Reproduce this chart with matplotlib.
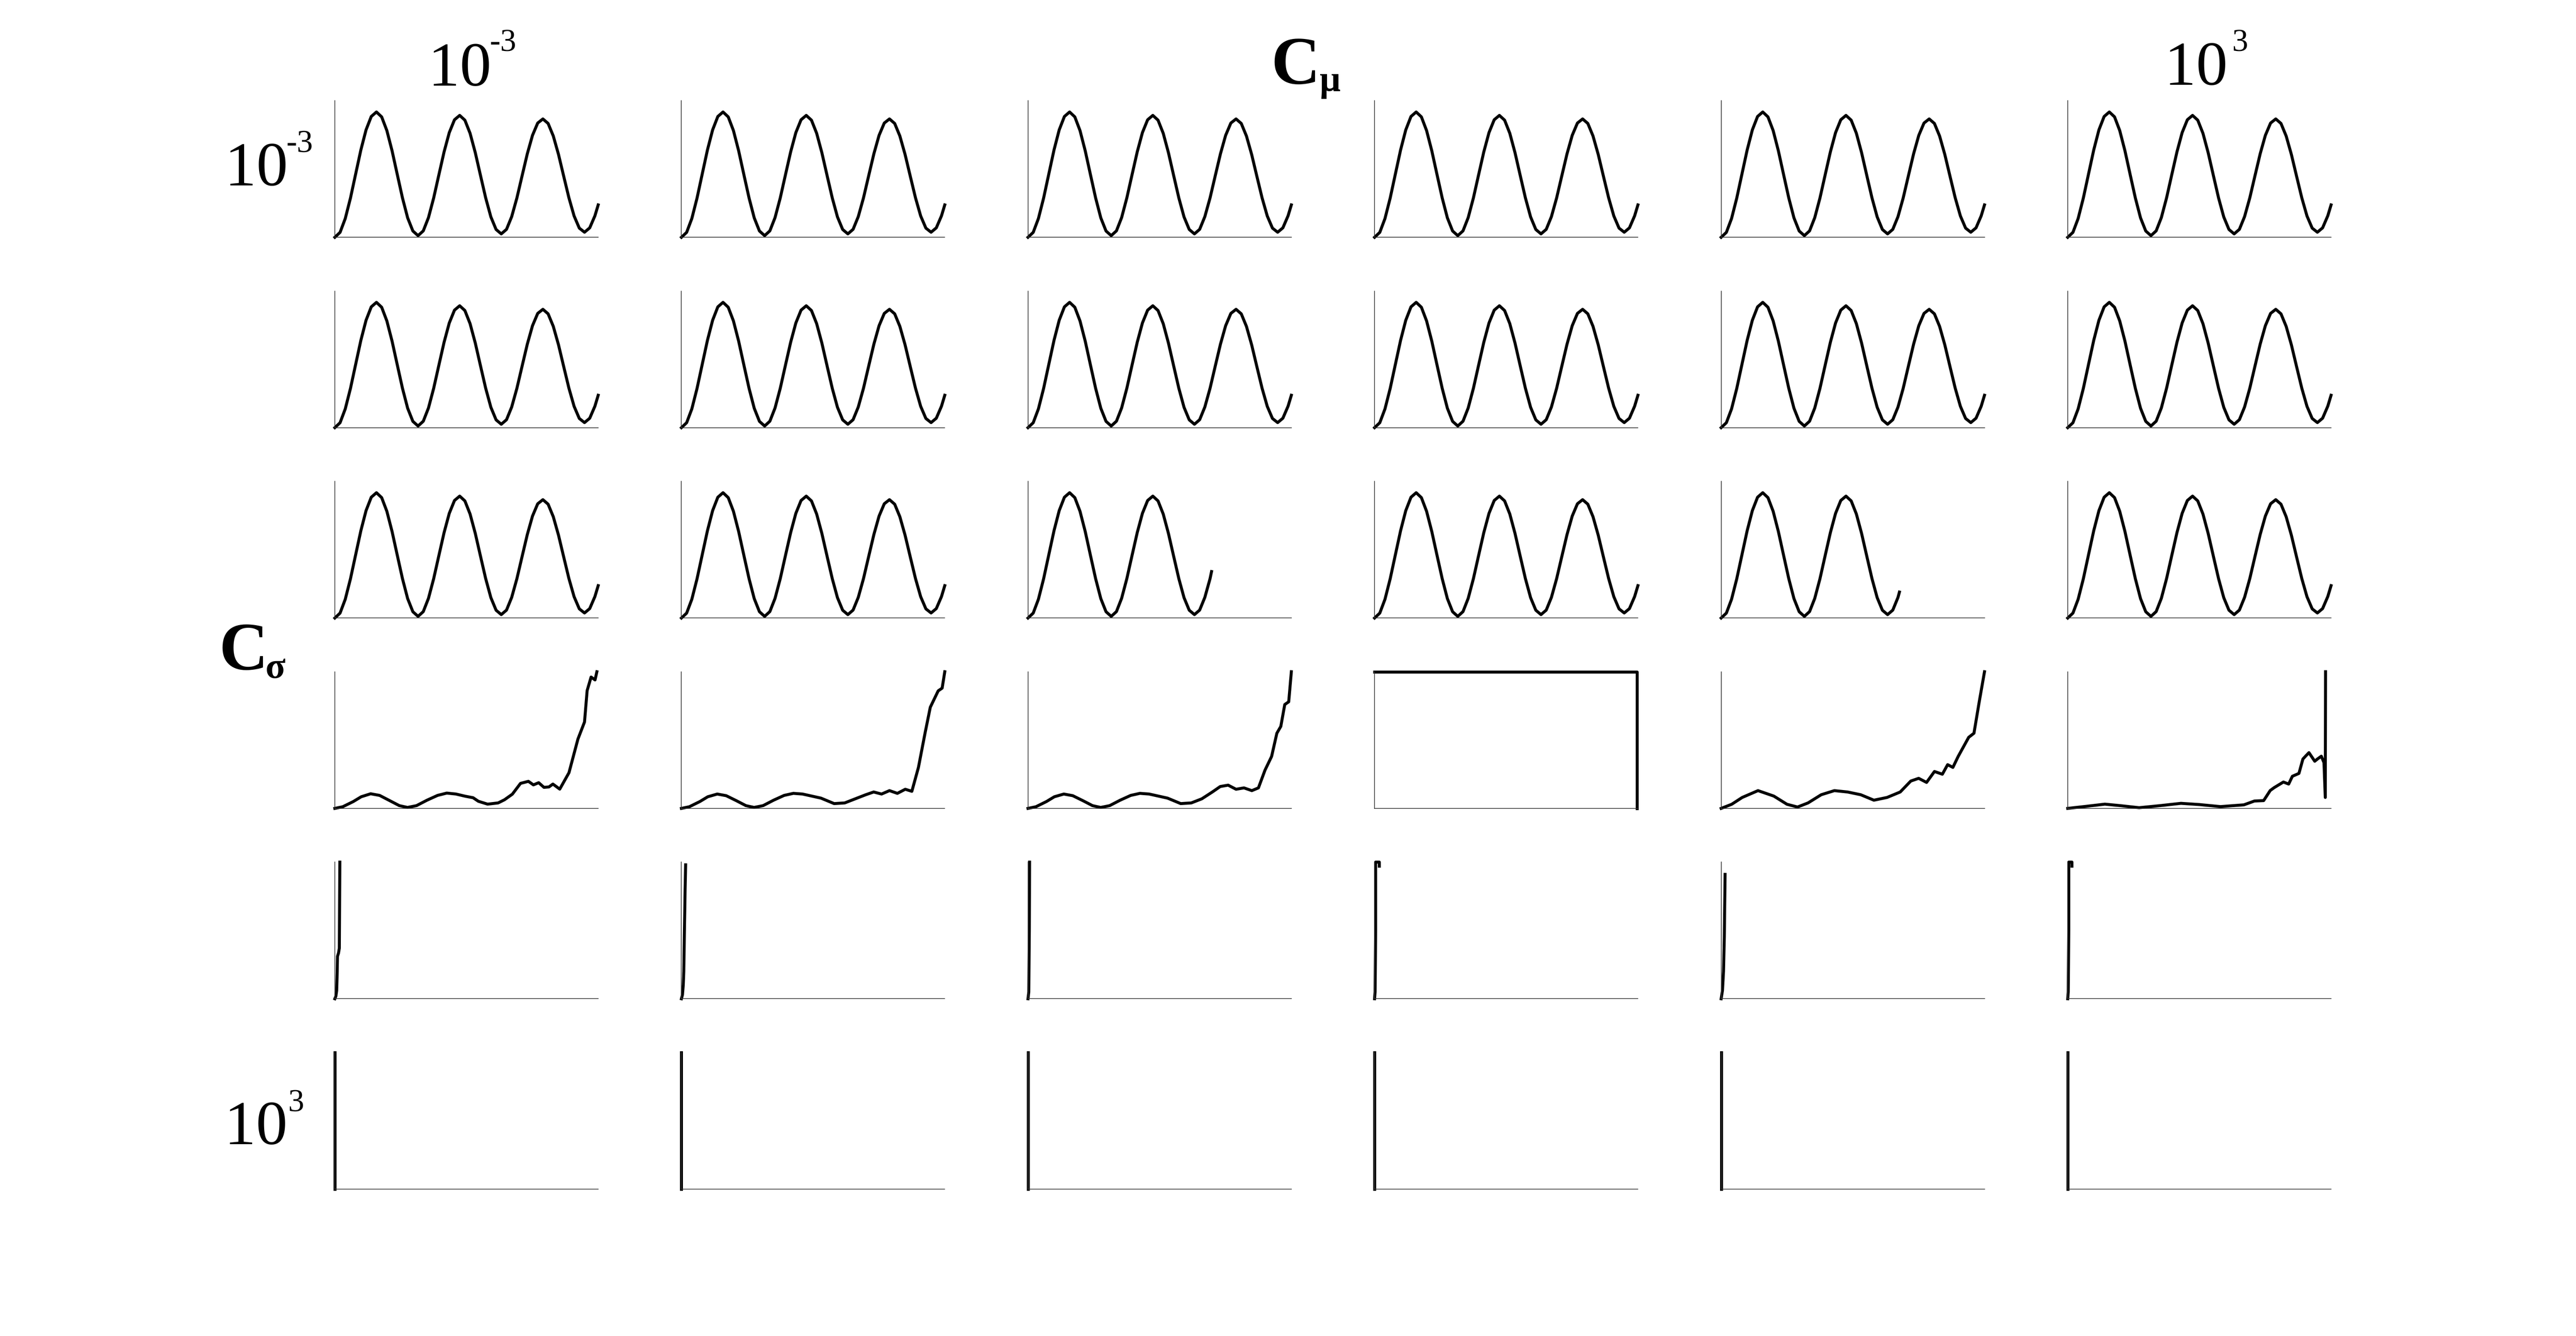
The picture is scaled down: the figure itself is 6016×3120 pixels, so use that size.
"""
6x6 grid of small trace panels over C_mu (columns) and C_sigma (rows).
"""

import matplotlib

matplotlib.use("Agg")
import matplotlib.pyplot as plt

# oscillating trace, x and y as fraction of the panel
SINE_X = [0.0, 0.0198, 0.0395, 0.0593, 0.079, 0.0988, 0.1185, 0.1383, 0.158,
          0.1778, 0.1975, 0.2173, 0.237, 0.2568, 0.2765, 0.2963, 0.316,
          0.3358, 0.3555, 0.3753, 0.395, 0.4148, 0.4345, 0.4543, 0.474,
          0.4938, 0.5135, 0.5333, 0.553, 0.5728, 0.5925, 0.6123, 0.632,
          0.6518, 0.6715, 0.6913, 0.711, 0.7308, 0.7505, 0.7703, 0.79,
          0.8098, 0.8295, 0.8493, 0.869, 0.8888, 0.9085, 0.9283, 0.948,
          0.9678, 0.9875, 1.0]
SINE_Y = [0.0, 0.036, 0.137, 0.287, 0.463, 0.639, 0.786, 0.884, 0.917,
          0.881, 0.781, 0.633, 0.460, 0.288, 0.142, 0.046, 0.012,
          0.047, 0.144, 0.288, 0.457, 0.625, 0.766, 0.860, 0.892,
          0.857, 0.761, 0.619, 0.453, 0.288, 0.149, 0.057, 0.025,
          0.058, 0.151, 0.288, 0.450, 0.611, 0.746, 0.836, 0.866,
          0.833, 0.741, 0.606, 0.447, 0.289, 0.156, 0.067, 0.037,
          0.069, 0.157, 0.237]

# traces that stop early (row 3, columns 3 and 5)
CUT_A_END = (0.697, 0.34)
CUT_B_END = (0.677, 0.19)

# row 4: slow wobble then a climb
DRIFT1_X = [0.0, 0.03, 0.07, 0.10, 0.136, 0.17, 0.21, 0.245, 0.276, 0.31,
            0.35, 0.39, 0.425, 0.46, 0.495, 0.525, 0.545, 0.58, 0.62, 0.644,
            0.674, 0.705, 0.735, 0.754, 0.774, 0.794, 0.813, 0.828, 0.854,
            0.889, 0.923, 0.948, 0.958, 0.973, 0.988, 0.995]
DRIFT1_Y = [0.0, 0.012, 0.05, 0.085, 0.107, 0.095, 0.055, 0.02, 0.007, 0.02,
            0.06, 0.095, 0.112, 0.105, 0.089, 0.078, 0.052, 0.031, 0.04, 0.063,
            0.104, 0.183, 0.198, 0.172, 0.188, 0.154, 0.157, 0.178, 0.141,
            0.261, 0.507, 0.632, 0.862, 0.961, 0.940, 1.0]

DRIFT2_X = [0.0, 0.03, 0.07, 0.10, 0.136, 0.17, 0.21, 0.245, 0.276, 0.31,
            0.35, 0.39, 0.425, 0.46, 0.495, 0.53, 0.58, 0.62, 0.66, 0.70,
            0.73, 0.76, 0.79, 0.82, 0.85, 0.875, 0.90, 0.925, 0.945, 0.96,
            0.975, 0.99, 1.0]
DRIFT2_Y = [0.0, 0.012, 0.05, 0.085, 0.105, 0.093, 0.055, 0.02, 0.007, 0.02,
            0.06, 0.095, 0.11, 0.105, 0.09, 0.075, 0.035, 0.04, 0.07, 0.10,
            0.12, 0.105, 0.13, 0.11, 0.14, 0.125, 0.30, 0.55, 0.74, 0.80,
            0.86, 0.88, 1.0]

DRIFT3_X = [0.0, 0.03, 0.07, 0.10, 0.136, 0.17, 0.21, 0.245, 0.276, 0.31,
            0.35, 0.39, 0.425, 0.46, 0.495, 0.53, 0.58, 0.62, 0.66, 0.70,
            0.73, 0.76, 0.79, 0.82, 0.85, 0.875, 0.90, 0.925, 0.945, 0.96,
            0.975, 0.99, 1.0]
DRIFT3_Y = [0.0, 0.012, 0.05, 0.085, 0.105, 0.093, 0.055, 0.02, 0.007, 0.02,
            0.06, 0.095, 0.11, 0.105, 0.09, 0.075, 0.035, 0.04, 0.07, 0.12,
            0.16, 0.17, 0.14, 0.15, 0.13, 0.15, 0.28, 0.38, 0.55, 0.60,
            0.76, 0.78, 1.0]

FLAT_X = [0.0, 0.988, 0.997, 0.997]
FLAT_Y = [1.0, 1.0, 1.0, 0.0]

DRIFT5_X = [0.0, 0.04, 0.08, 0.14, 0.20, 0.25, 0.29, 0.33, 0.38, 0.43,
            0.48, 0.53, 0.58, 0.63, 0.68, 0.72, 0.75, 0.78, 0.81, 0.84,
            0.86, 0.88, 0.90, 0.92, 0.94, 0.96, 0.98, 1.0]
DRIFT5_Y = [0.0, 0.03, 0.08, 0.13, 0.09, 0.03, 0.01, 0.04, 0.10, 0.13,
            0.12, 0.10, 0.06, 0.08, 0.12, 0.20, 0.22, 0.19, 0.27, 0.25,
            0.32, 0.30, 0.38, 0.45, 0.52, 0.55, 0.78, 1.0]

DRIFT6_X = [0.0, 0.07, 0.141, 0.20, 0.271, 0.35, 0.43, 0.50, 0.58, 0.669,
            0.709, 0.744, 0.769, 0.784, 0.819, 0.839, 0.853, 0.878, 0.893,
            0.903, 0.916, 0.938, 0.948, 0.963, 0.973, 0.978, 0.979]
DRIFT6_Y = [0.0, 0.015, 0.031, 0.02, 0.005, 0.02, 0.037, 0.028, 0.013,
            0.026, 0.054, 0.057, 0.131, 0.152, 0.193, 0.178, 0.235, 0.256,
            0.361, 0.382, 0.408, 0.345, 0.361, 0.382, 0.335, 0.08, 1.0]

# row 5: almost immediate rise at the left edge
SPIKE1_X = [0.0, 0.004, 0.007, 0.009, 0.010, 0.014, 0.017, 0.018, 0.019]
SPIKE1_Y = [0.0, 0.02, 0.06, 0.20, 0.31, 0.335, 0.37, 0.70, 1.0]
SPIKE2_X = [0.0, 0.004, 0.007, 0.009, 0.011, 0.014, 0.016]
SPIKE2_Y = [0.0, 0.03, 0.10, 0.20, 0.45, 0.80, 0.98]
SPIKE3_X = [0.0, 0.003, 0.005, 0.006]
SPIKE3_Y = [0.0, 0.05, 0.50, 1.0]
SPIKE4_X = [0.0, 0.002, 0.004, 0.004, 0.018, 0.018]
SPIKE4_Y = [0.0, 0.05, 0.50, 1.0, 1.0, 0.97]
SPIKE5_X = [0.0, 0.005, 0.009, 0.012, 0.015]
SPIKE5_Y = [0.0, 0.06, 0.20, 0.45, 0.91]
SPIKE6_X = [0.0, 0.002, 0.004, 0.004, 0.016, 0.016]
SPIKE6_Y = [0.0, 0.05, 0.50, 1.0, 1.0, 0.97]

# row 6: vertical at x = 0
WALL_X = [0.0, 0.0]
WALL_Y = [0.0, 1.0]

COL_LABELS = ["10", "-3", "10", "3"]
ROW_LABELS = ["10", "-3", "10", "3"]

W, H = 6016, 3120


def fx(px):
    return px / W


def fy(py):
    return 1 - py / H


def main() -> None:
    plt.rcParams["font.family"] = ["Liberation Serif", "DejaVu Serif"]

    cut_a = (SINE_X[:36] + [CUT_A_END[0]], SINE_Y[:36] + [CUT_A_END[1]])
    cut_b = (SINE_X[:35] + [CUT_B_END[0]], SINE_Y[:35] + [CUT_B_END[1]])
    sine = (SINE_X, SINE_Y)

    traces = [
        [sine] * 6,
        [sine] * 6,
        [sine, sine, cut_a, sine, cut_b, sine],
        [(DRIFT1_X, DRIFT1_Y), (DRIFT2_X, DRIFT2_Y), (DRIFT3_X, DRIFT3_Y),
         (FLAT_X, FLAT_Y), (DRIFT5_X, DRIFT5_Y), (DRIFT6_X, DRIFT6_Y)],
        [(SPIKE1_X, SPIKE1_Y), (SPIKE2_X, SPIKE2_Y), (SPIKE3_X, SPIKE3_Y),
         (SPIKE4_X, SPIKE4_Y), (SPIKE5_X, SPIKE5_Y), (SPIKE6_X, SPIKE6_Y)],
        [(WALL_X, WALL_Y)] * 6,
    ]

    fig = plt.figure(figsize=(W / 400, H / 400), dpi=400)
    gs = fig.add_gridspec(6, 6, left=fx(782), right=fx(5444), top=fy(235),
                          bottom=fy(2777), wspace=0.316, hspace=0.393)

    for r in range(6):
        for c in range(6):
            ax = fig.add_subplot(gs[r, c])
            xs, ys = traces[r][c]
            ax.plot(xs, ys, color="black", lw=1.25, clip_on=False,
                    solid_joinstyle="round")
            ax.set_xlim(0, 1)
            ax.set_ylim(0, 1)
            ax.set_xticks([])
            ax.set_yticks([])
            for side in ("top", "right"):
                ax.spines[side].set_visible(False)
            for side in ("left", "bottom"):
                ax.spines[side].set_color("#333333")
                ax.spines[side].set_linewidth(0.3)
            ax.patch.set_visible(False)

    big, small = 26.5, 13.5
    # column header
    fig.text(fx(1000), fy(200), COL_LABELS[0], fontsize=big, va="baseline")
    fig.text(fx(1143), fy(120), COL_LABELS[1], fontsize=small, va="baseline")
    fig.text(fx(5055), fy(198), COL_LABELS[2], fontsize=big, va="baseline")
    fig.text(fx(5212), fy(120), COL_LABELS[3], fontsize=small, va="baseline")
    fig.text(fx(2968), fy(195), "C", fontsize=28.5, fontweight="bold",
             va="baseline")
    fig.text(fx(3082), fy(212), "\u03bc", fontsize=15.5, fontweight="bold",
             va="baseline")

    # row header
    fig.text(fx(525), fy(433), ROW_LABELS[0], fontsize=big, va="baseline")
    fig.text(fx(668), fy(355), ROW_LABELS[1], fontsize=small, va="baseline")
    fig.text(fx(524), fy(2672), ROW_LABELS[2], fontsize=big, va="baseline")
    fig.text(fx(672), fy(2595), ROW_LABELS[3], fontsize=small, va="baseline")
    fig.text(fx(511), fy(1563), "C", fontsize=28.5, fontweight="bold",
             va="baseline")
    fig.text(fx(620), fy(1583), "\u03c3", fontsize=15.5, fontweight="bold",
             va="baseline")

    fig.savefig("out.png", dpi=400)
    plt.close(fig)


if __name__ == "__main__":
    main()
